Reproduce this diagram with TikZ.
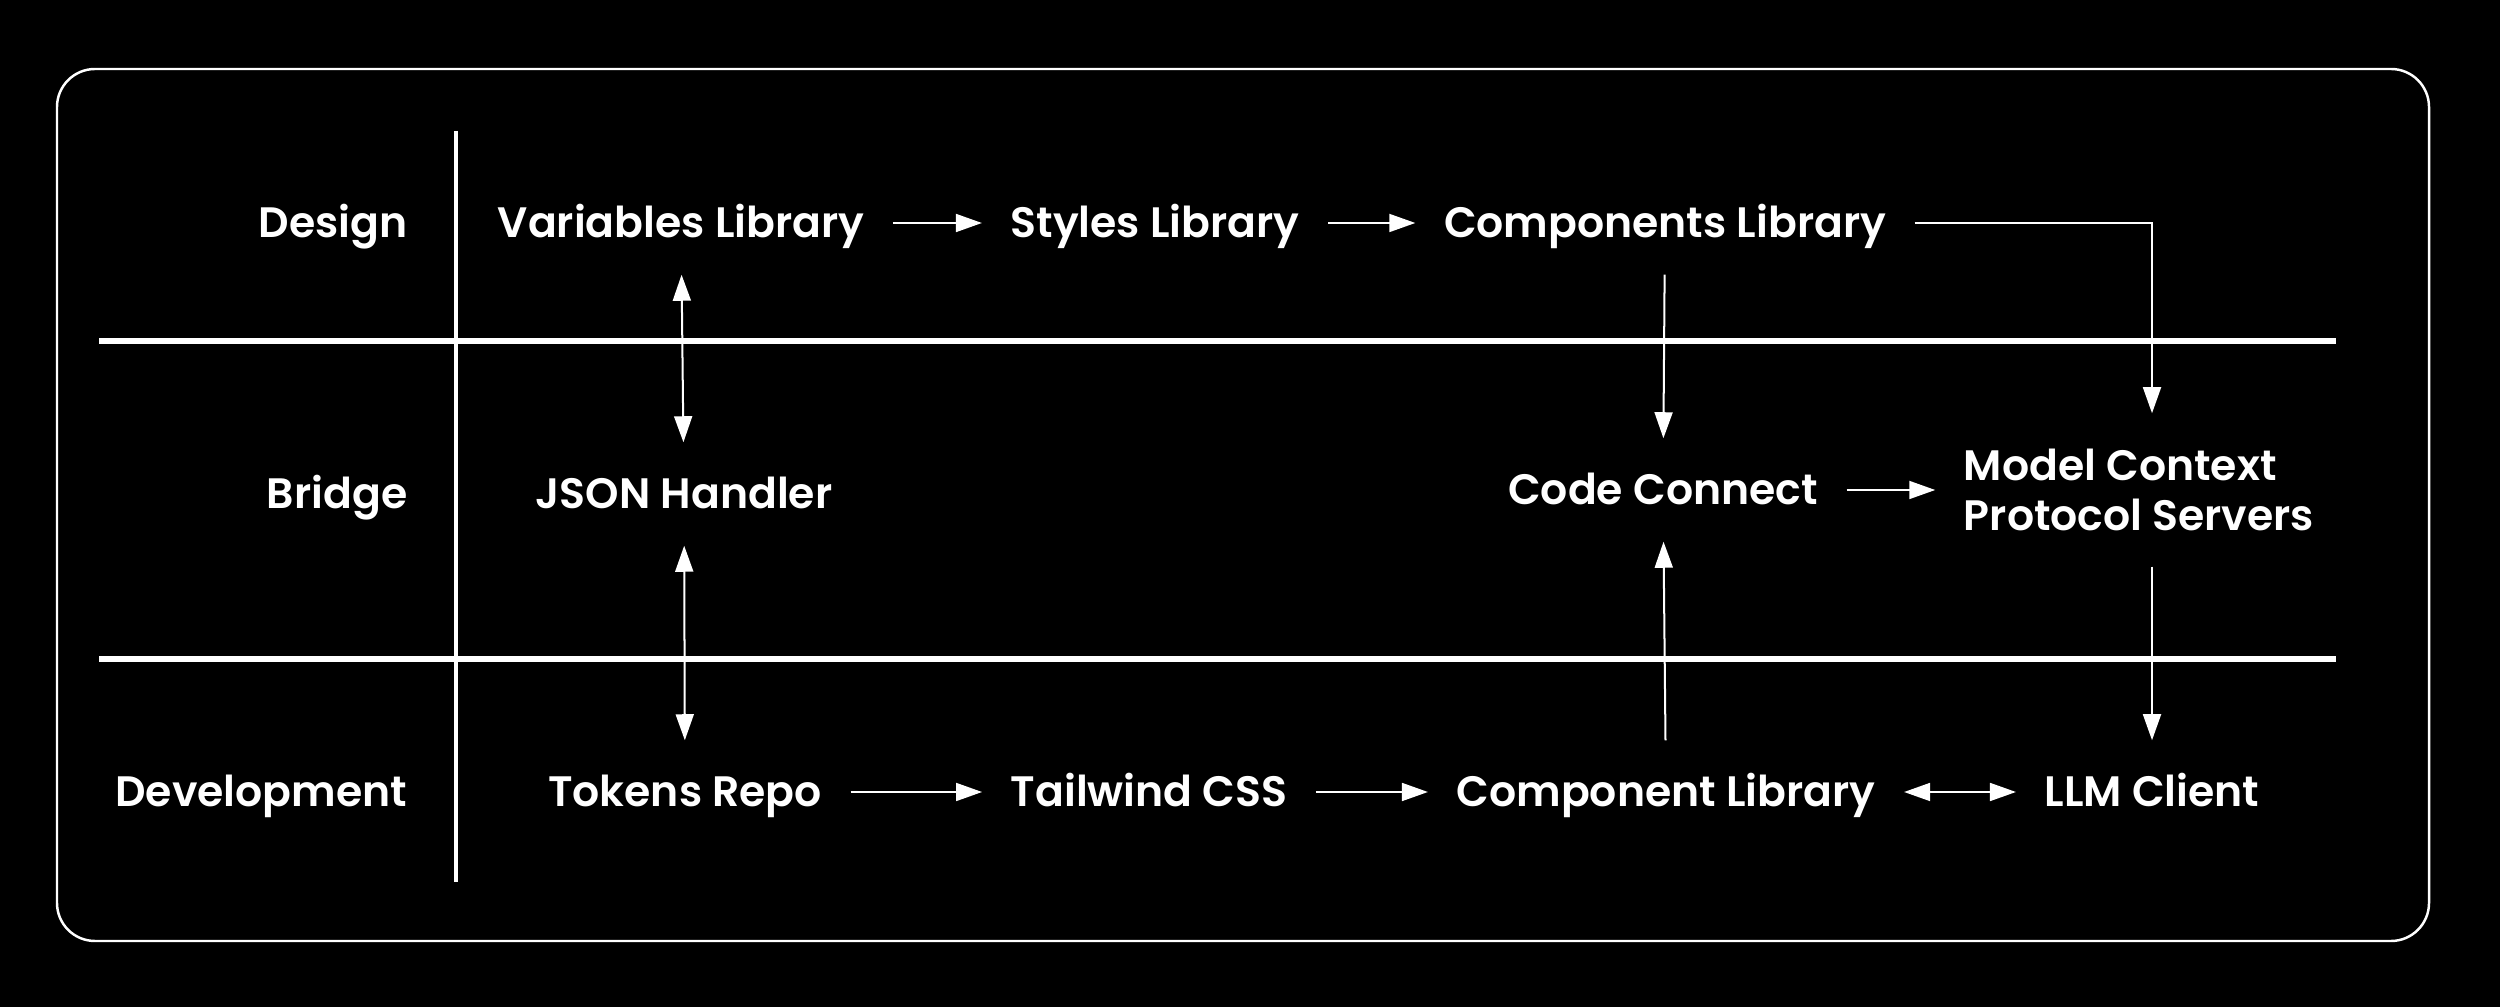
\documentclass[tikz,border=0pt]{standalone}
\usepackage{fontspec}
\setmainfont{Poppins}[BoldFont={Poppins SemiBold}]
\usepackage{tikz}
\usetikzlibrary{arrows.meta}
\usetikzlibrary{positioning}

\tikzset{
	box/.style={text=white, font=\bfseries\fontsize{12.1}{14}\selectfont,
		inner xsep=0.28cm, inner ysep=0pt, minimum height=1.02cm},
	item/.style={box, text height=0.4cm, text depth=0.11cm},
	lane/.style={item, anchor=east, inner xsep=0pt},
	flow/.style={draw=white, line width=0.57pt, -{Triangle[length=7.4pt,width=5.1pt]}},
	twoway/.style={flow, {Triangle[length=7.4pt,width=5.1pt]}-{Triangle[length=7.4pt,width=5.1pt]}},
	lanerule/.style={draw=white, line width=1.5pt},
}

\begin{document}
\begin{tikzpicture}[x=0.01cm,y=-0.01cm]
\fill[black] (0,0) rectangle (2500,1007);
\useasboundingbox (0,0) rectangle (2500,1007);
\draw[white, line width=0.7pt, rounded corners=0.38cm] (57,69) rectangle (2429,941);
% swimlanes
\draw[lanerule] (99,341) -- (2336,341);
\draw[lanerule] (99,659) -- (2336,659);
\draw[white, line width=1.1pt] (456,131) -- (456,882);
\node[lane] (design) at (408,223) {Design};
\node[lane] (bridge) at (408,494) {Bridge};
\node[lane] (devel) at (408,792) {Development};
% design row
\node[item] (vars) at (681,223) {Variables Library};
\node[item] (styles) at (1155,223) {Styles Library};
\node[item] (comps) at (1665,223) {Components Library};
% bridge row
\node[item] (json) at (684,494) {JSON Handler};
\node[item] (code) at (1663,490) {Code Connect};
\node[box, align=left, minimum height=1.52cm] (mcp) at (2139,490) {Model Context\\Protocol Servers};
% development row
\node[item] (tokens) at (685,792) {Tokens Repo};
\node[item] (tail) at (1149,792) {Tailwind CSS};
\node[item] (complib) at (1666,792) {Component Library};
\node[item] (llm) at (2152,792) {LLM Client};
% flows
\draw[flow] (vars) -- (styles);
\draw[flow] (styles) -- (comps);
\draw[flow] (comps.east) -| (llm.north |- mcp.north);
\draw[flow] (comps) -- (code);
\draw[twoway] (vars) -- (json);
\draw[twoway] (json) -- (tokens);
\draw[flow] (code) -- (code -| mcp.west);
\draw[flow] (complib) -- (code);
\draw[flow] (llm.north |- mcp.south) -- (llm.north);
\draw[flow] (tokens) -- (tail);
\draw[flow] (tail) -- (complib);
\draw[twoway] (complib) -- (llm);
\end{tikzpicture}
\end{document}
